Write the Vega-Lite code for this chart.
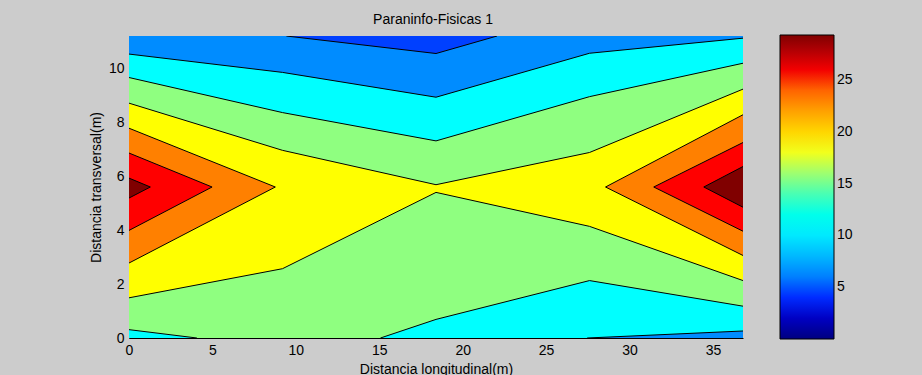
{
  "$schema": "https://vega.github.io/schema/vega-lite/v6.json",
  "width": 614,
  "height": 302,
  "autosize": {"type": "none"},
  "padding": {"left": 129, "top": 36, "right": 179, "bottom": 37},
  "background": "#cccccc",
  "config": {"font": "Liberation Sans", "view": {"stroke": null}},
  "title": {"text": "Paraninfo-Fisicas 1", "fontSize": 14, "fontWeight": "normal", "color": "#000000", "offset": 8, "dx": -3},
  "datasets": {
    "fills": [
      {"p": "P1", "band": "b1", "i": 0, "x": 0, "y": 0},
      {"p": "P1", "band": "b1", "i": 1, "x": 36.8, "y": 0},
      {"p": "P1", "band": "b1", "i": 2, "x": 36.8, "y": 11.2},
      {"p": "P1", "band": "b1", "i": 3, "x": 0, "y": 11.2},
      {"p": "P2", "band": "b2", "i": 0, "x": 0, "y": 0},
      {"p": "P2", "band": "b2", "i": 1, "x": 36.8, "y": 0},
      {"p": "P2", "band": "b2", "i": 2, "x": 36.8, "y": 11.2},
      {"p": "P2", "band": "b2", "i": 3, "x": 22.06, "y": 11.2},
      {"p": "P2", "band": "b2", "i": 4, "x": 18.4, "y": 10.55},
      {"p": "P2", "band": "b2", "i": 5, "x": 9.43, "y": 11.2},
      {"p": "P2", "band": "b2", "i": 6, "x": 0, "y": 11.2},
      {"p": "P3", "band": "b3", "i": 0, "x": 0, "y": 0},
      {"p": "P3", "band": "b3", "i": 1, "x": 27.46, "y": 0},
      {"p": "P3", "band": "b3", "i": 2, "x": 36.8, "y": 0.26},
      {"p": "P3", "band": "b3", "i": 3, "x": 36.8, "y": 11.12},
      {"p": "P3", "band": "b3", "i": 4, "x": 27.6, "y": 10.56},
      {"p": "P3", "band": "b3", "i": 5, "x": 18.4, "y": 8.93},
      {"p": "P3", "band": "b3", "i": 6, "x": 9.2, "y": 9.85},
      {"p": "P3", "band": "b3", "i": 7, "x": 0, "y": 10.53},
      {"p": "P4", "band": "b4", "i": 0, "x": 0, "y": 0.31},
      {"p": "P4", "band": "b4", "i": 1, "x": 4.07, "y": 0},
      {"p": "P4", "band": "b4", "i": 2, "x": 15.07, "y": 0},
      {"p": "P4", "band": "b4", "i": 3, "x": 18.4, "y": 0.69},
      {"p": "P4", "band": "b4", "i": 4, "x": 27.6, "y": 2.13},
      {"p": "P4", "band": "b4", "i": 5, "x": 36.8, "y": 1.18},
      {"p": "P4", "band": "b4", "i": 6, "x": 36.8, "y": 10.19},
      {"p": "P4", "band": "b4", "i": 7, "x": 27.6, "y": 8.95},
      {"p": "P4", "band": "b4", "i": 8, "x": 18.4, "y": 7.31},
      {"p": "P4", "band": "b4", "i": 9, "x": 9.2, "y": 8.36},
      {"p": "P4", "band": "b4", "i": 10, "x": 0, "y": 9.66},
      {"p": "P5", "band": "b5", "i": 0, "x": 0, "y": 1.49},
      {"p": "P5", "band": "b5", "i": 1, "x": 9.2, "y": 2.57},
      {"p": "P5", "band": "b5", "i": 2, "x": 18.4, "y": 5.4},
      {"p": "P5", "band": "b5", "i": 3, "x": 27.6, "y": 4.14},
      {"p": "P5", "band": "b5", "i": 4, "x": 36.8, "y": 2.13},
      {"p": "P5", "band": "b5", "i": 5, "x": 36.8, "y": 9.23},
      {"p": "P5", "band": "b5", "i": 6, "x": 27.6, "y": 6.88},
      {"p": "P5", "band": "b5", "i": 7, "x": 18.4, "y": 5.685},
      {"p": "P5", "band": "b5", "i": 8, "x": 9.2, "y": 6.96},
      {"p": "P5", "band": "b5", "i": 9, "x": 0, "y": 8.71},
      {"p": "P6L", "band": "b6", "i": 0, "x": 0, "y": 2.78},
      {"p": "P6L", "band": "b6", "i": 1, "x": 8.77, "y": 5.6},
      {"p": "P6L", "band": "b6", "i": 2, "x": 0, "y": 7.78},
      {"p": "P6R", "band": "b6", "i": 0, "x": 36.8, "y": 3.06},
      {"p": "P6R", "band": "b6", "i": 1, "x": 28.56, "y": 5.6},
      {"p": "P6R", "band": "b6", "i": 2, "x": 36.8, "y": 8.28},
      {"p": "P7L", "band": "b7", "i": 0, "x": 0, "y": 3.99},
      {"p": "P7L", "band": "b7", "i": 1, "x": 4.98, "y": 5.6},
      {"p": "P7L", "band": "b7", "i": 2, "x": 0, "y": 6.86},
      {"p": "P7R", "band": "b7", "i": 0, "x": 36.8, "y": 3.96},
      {"p": "P7R", "band": "b7", "i": 1, "x": 31.45, "y": 5.6},
      {"p": "P7R", "band": "b7", "i": 2, "x": 36.8, "y": 7.25},
      {"p": "P8L", "band": "b8", "i": 0, "x": 0, "y": 5.19},
      {"p": "P8L", "band": "b8", "i": 1, "x": 1.28, "y": 5.6},
      {"p": "P8L", "band": "b8", "i": 2, "x": 0, "y": 5.93},
      {"p": "P8R", "band": "b8", "i": 0, "x": 36.8, "y": 4.85},
      {"p": "P8R", "band": "b8", "i": 1, "x": 34.45, "y": 5.6},
      {"p": "P8R", "band": "b8", "i": 2, "x": 36.8, "y": 6.36}
    ],
    "lines": [
      {"c": "L2", "i": 0, "x": 9.43, "y": 11.2},
      {"c": "L2", "i": 1, "x": 18.4, "y": 10.55},
      {"c": "L2", "i": 2, "x": 22.06, "y": 11.2},
      {"c": "L3a", "i": 0, "x": 0, "y": 10.53},
      {"c": "L3a", "i": 1, "x": 9.2, "y": 9.85},
      {"c": "L3a", "i": 2, "x": 18.4, "y": 8.93},
      {"c": "L3a", "i": 3, "x": 27.6, "y": 10.56},
      {"c": "L3a", "i": 4, "x": 36.8, "y": 11.12},
      {"c": "L3b", "i": 0, "x": 27.46, "y": 0},
      {"c": "L3b", "i": 1, "x": 36.8, "y": 0.26},
      {"c": "L4a", "i": 0, "x": 0, "y": 9.66},
      {"c": "L4a", "i": 1, "x": 9.2, "y": 8.36},
      {"c": "L4a", "i": 2, "x": 18.4, "y": 7.31},
      {"c": "L4a", "i": 3, "x": 27.6, "y": 8.95},
      {"c": "L4a", "i": 4, "x": 36.8, "y": 10.19},
      {"c": "L4b", "i": 0, "x": 0, "y": 0.31},
      {"c": "L4b", "i": 1, "x": 4.07, "y": 0},
      {"c": "L4c", "i": 0, "x": 15.07, "y": 0},
      {"c": "L4c", "i": 1, "x": 18.4, "y": 0.69},
      {"c": "L4c", "i": 2, "x": 27.6, "y": 2.13},
      {"c": "L4c", "i": 3, "x": 36.8, "y": 1.18},
      {"c": "L5a", "i": 0, "x": 0, "y": 8.71},
      {"c": "L5a", "i": 1, "x": 9.2, "y": 6.96},
      {"c": "L5a", "i": 2, "x": 18.4, "y": 5.685},
      {"c": "L5a", "i": 3, "x": 27.6, "y": 6.88},
      {"c": "L5a", "i": 4, "x": 36.8, "y": 9.23},
      {"c": "L5b", "i": 0, "x": 0, "y": 1.49},
      {"c": "L5b", "i": 1, "x": 9.2, "y": 2.57},
      {"c": "L5b", "i": 2, "x": 18.4, "y": 5.4},
      {"c": "L5b", "i": 3, "x": 27.6, "y": 4.14},
      {"c": "L5b", "i": 4, "x": 36.8, "y": 2.13},
      {"c": "L6a", "i": 0, "x": 0, "y": 2.78},
      {"c": "L6a", "i": 1, "x": 8.77, "y": 5.6},
      {"c": "L6a", "i": 2, "x": 0, "y": 7.78},
      {"c": "L6b", "i": 0, "x": 36.8, "y": 3.06},
      {"c": "L6b", "i": 1, "x": 28.56, "y": 5.6},
      {"c": "L6b", "i": 2, "x": 36.8, "y": 8.28},
      {"c": "L7a", "i": 0, "x": 0, "y": 3.99},
      {"c": "L7a", "i": 1, "x": 4.98, "y": 5.6},
      {"c": "L7a", "i": 2, "x": 0, "y": 6.86},
      {"c": "L7b", "i": 0, "x": 36.8, "y": 3.96},
      {"c": "L7b", "i": 1, "x": 31.45, "y": 5.6},
      {"c": "L7b", "i": 2, "x": 36.8, "y": 7.25},
      {"c": "L8a", "i": 0, "x": 0, "y": 5.19},
      {"c": "L8a", "i": 1, "x": 1.28, "y": 5.6},
      {"c": "L8a", "i": 2, "x": 0, "y": 5.93},
      {"c": "L8b", "i": 0, "x": 36.8, "y": 4.85},
      {"c": "L8b", "i": 1, "x": 34.45, "y": 5.6},
      {"c": "L8b", "i": 2, "x": 36.8, "y": 6.36}
    ],
    "cbar": [{"lev": 0}, {"lev": 29.35}]
  },
  "layer": [
    {
      "data": {"name": "fills"},
      "mark": {"type": "line", "stroke": "transparent", "strokeWidth": 0, "clip": true, "interpolate": "linear"},
      "encoding": {
        "x": {
          "field": "x", "type": "quantitative",
          "scale": {"domain": [0, 36.8], "nice": false, "zero": false},
          "axis": {
            "title": "Distancia longitudinal(m)", "values": [0, 5, 10, 15, 20, 25, 30, 35],
            "ticks": false, "grid": false, "labelFlush": false, "labelPadding": 5,
            "labelFontSize": 14, "labelColor": "#000000", "domainColor": "#000000", "domainWidth": 1,
            "titleFontSize": 14, "titleFontWeight": "normal", "titleColor": "#000000",
            "titleY": 31, "titleBaseline": "middle"
          }
        },
        "y": {
          "field": "y", "type": "quantitative",
          "scale": {"domain": [0, 11.2], "nice": false, "zero": false},
          "axis": {
            "title": "Distancia transversal(m)", "values": [0, 2, 4, 6, 8, 10],
            "ticks": false, "grid": false, "labelFlush": false, "labelPadding": 5,
            "labelFontSize": 14, "labelColor": "#000000", "domainColor": "#000000", "domainWidth": 1,
            "titleFontSize": 14, "titleFontWeight": "normal", "titleColor": "#000000",
            "titleX": -33, "titleBaseline": "middle"
          }
        },
        "detail": {"field": "p", "type": "nominal"},
        "order": {"field": "i", "type": "quantitative"},
        "fill": {
          "field": "band", "type": "nominal",
          "scale": {
            "domain": ["b1", "b2", "b3", "b4", "b5", "b6", "b7", "b8"],
            "range": ["#0040ff", "#008cff", "#00ffff", "#8fff80", "#ffff00", "#ff8000", "#ff0000", "#800000"]
          },
          "legend": null
        }
      }
    },
    {
      "data": {"name": "lines"},
      "mark": {"type": "line", "color": "#000000", "strokeWidth": 1, "clip": true, "interpolate": "linear"},
      "encoding": {
        "x": {"field": "x", "type": "quantitative", "scale": {"domain": [0, 36.8], "nice": false, "zero": false}},
        "y": {"field": "y", "type": "quantitative", "scale": {"domain": [0, 11.2], "nice": false, "zero": false}},
        "detail": {"field": "c", "type": "nominal"},
        "order": {"field": "i", "type": "quantitative"}
      }
    },
    {
      "data": {"name": "cbar"},
      "mark": {"type": "point", "opacity": 0},
      "encoding": {
        "color": {
          "field": "lev", "type": "quantitative",
          "scale": {
            "domain": [0, 3.67, 11.01, 18.34, 25.68, 29.35],
            "range": ["#000080", "#0000ff", "#00ffff", "#ffff00", "#ff0000", "#800000"]
          },
          "legend": {
            "orient": "none", "legendX": 651, "legendY": -1, "direction": "vertical",
            "title": null, "values": [5, 10, 15, 20, 25],
            "gradientLength": 304, "gradientThickness": 54,
            "gradientStrokeColor": "#000000", "gradientStrokeWidth": 1,
            "labelFontSize": 14, "labelColor": "#000000", "labelOffset": 3, "padding": 0
          }
        }
      }
    }
  ]
}
